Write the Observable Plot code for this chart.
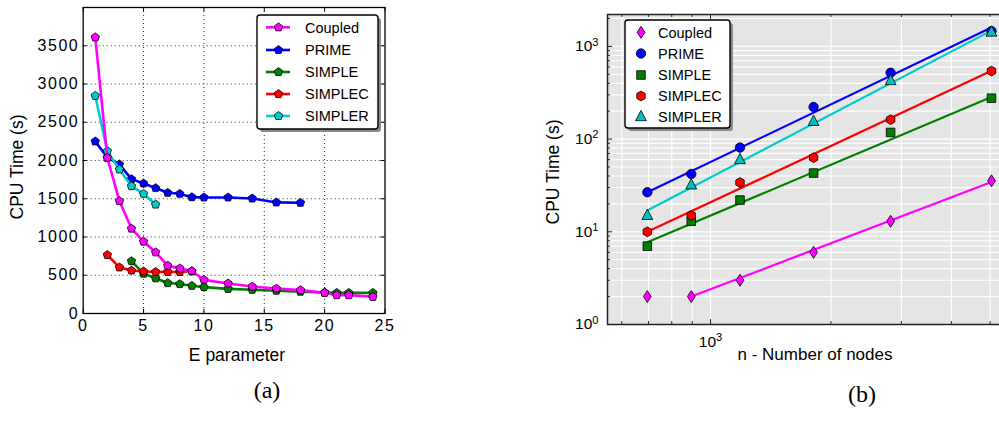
<!DOCTYPE html>
<html><head><meta charset="utf-8">
<script src="https://cdn.jsdelivr.net/npm/d3@7"></script>
<script src="https://cdn.jsdelivr.net/npm/@observablehq/plot@0.6"></script>
<style>
html,body{margin:0;padding:0;background:#fff;overflow:hidden;width:999px;height:421px;}
#wrap{position:relative;width:999px;height:421px;overflow:hidden;font-family:"Liberation Sans",Arial,sans-serif;color:#000;}
.abs{position:absolute;white-space:nowrap;line-height:1;}
</style></head><body><div id="wrap"></div>
<script>
// ---------- Panel (a) data: CPU time vs E parameter ----------
const eCoupled = [1,2,3,4,5,6,7,8,9,10,12,14,16,18,20,21,22,24];
const cpuCoupled = [3610,2036,1470,1110,940,800,625,590,555,440,393,352,326,305,270,240,240,218];
const ePrime = [1,2,3,4,5,6,7,8,9,10,12,14,16,18];
const cpuPrime = [2250,2038,1950,1757,1700,1640,1578,1565,1521,1517,1517,1504,1452,1447];
const eSimple = [4,5,6,7,8,9,10,12,14,16,18,20,21,22,24];
const cpuSimple = [685,521,460,398,385,362,345,322,310,298,285,275,270,270,270];
const eSimplec = [2,3,4,5,6,7,8,9];
const cpuSimplec = [765,603,562,550,543,543,543,552];
const eSimpler = [1,2,3,4,5,6];
const cpuSimpler = [2846,2123,1883,1665,1565,1425];
const xTicksA = [0,5,10,15,20,25];
const yTicksA = [0,500,1000,1500,2000,2500,3000,3500];

// ---------- Panel (b) data: CPU time vs number of nodes ----------
const nodes = [695, 895, 1185, 1810, 2820, 5040];
const tCoupled = [2, 2, 3, 6, 13, 35.5];
const tPrime = [26.7, 42, 81, 222, 520, 1460];
const tSimple = [7, 13, 22, 43, 118, 276];
const tSimplec = [10, 15, 34, 63, 162, 542];
const tSimpler = [15, 32, 60, 155, 427, 1425];
// fitted power-law lines, end points
const fitCoupledN = [895, 5040], fitCoupledT = [2, 34.5];
const fitPrimeN = [695, 5040], fitPrimeT = [26.7, 1600];
const fitSimpleN = [695, 5040], fitSimpleT = [7.7, 285];
const fitSimplecN = [695, 5040], fitSimplecT = [10, 545];
const fitSimplerN = [695, 5040], fitSimplerT = [17, 1480];
const xGridB = [600,700,800,900,1000,2000,3000,4000,5000];
const yGridB = [1,2,3,4,5,6,7,8,9,10,20,30,40,50,60,70,80,90,100,200,300,400,500,600,700,800,900,1000,2000];
const yTicksB = [1,10,100,1000];
const xTicksB = [1000];

const names = ["Coupled","PRIME","SIMPLE","SIMPLEC","SIMPLER"];

// ---------- styles ----------
const colors = {Coupled:"#ff00ff", PRIME:"#0000ff", SIMPLE:"#008000", SIMPLEC:"#ff0000", SIMPLER:"#00cccc"};
const fillsB = {Coupled:"#ff00ff", PRIME:"#0000ff", SIMPLE:"#007f00", SIMPLEC:"#ff0000", SIMPLER:"#00c0c0"};
const shapeB = {Coupled:"diamond", PRIME:"circle", SIMPLE:"square", SIMPLEC:"hexagon", SIMPLER:"triangle"};

function polygon(n, r, start){
  const v=[]; for(let i=0;i<n;i++){const a=(start+i*360/n)*Math.PI/180; v.push([r*Math.cos(a), r*Math.sin(a)]);} return v;
}
const shapes = {
  pentagon: polygon(5, 4.4, -90),
  diamond: [[0,-6],[3.9,0],[0,6],[-3.9,0]],
  square: [[-4.3,-4.3],[4.3,-4.3],[4.3,4.3],[-4.3,4.3]],
  hexagon: polygon(6, 4.9, -90),
  triangle: [[0,-6.3],[5.4,4],[-5.4,4]],
  circle: null
};
const circleR = 4.7;
function sym(name){
  return {draw(ctx){
    const v = shapes[name];
    if(!v){ ctx.moveTo(circleR,0); ctx.arc(0,0,circleR,0,2*Math.PI); return; }
    v.forEach(([x,y],i)=> i?ctx.lineTo(x,y):ctx.moveTo(x,y)); ctx.closePath();
  }};
}
function pathStr(name, cx, cy){
  const v = shapes[name];
  if(!v) return `M${cx+circleR},${cy}A${circleR},${circleR},0,1,1,${cx-circleR},${cy}A${circleR},${circleR},0,1,1,${cx+circleR},${cy}Z`;
  return v.map(([x,y],i)=>(i?"L":"M")+(cx+x)+","+(cy+y)).join("")+"Z";
}

const wrap = document.getElementById("wrap");
function addText(txt, css){ const d=document.createElement("div"); d.className="abs"; d.textContent=txt; Object.assign(d.style, css); wrap.appendChild(d); return d; }
function supify(svg){
  svg.querySelectorAll("text").forEach(t=>{
    const m=/^10\^(\d)$/.exec(t.textContent);
    if(m){ t.textContent="10"; const ts=document.createElementNS("http://www.w3.org/2000/svg","tspan");
      ts.setAttribute("dy","-0.5em"); ts.setAttribute("font-size","0.72em"); ts.textContent=m[1]; t.appendChild(ts); }
  });
}

// ---------- Panel (a) ----------
const seriesA = {
  Coupled:[eCoupled,cpuCoupled], PRIME:[ePrime,cpuPrime], SIMPLE:[eSimple,cpuSimple],
  SIMPLEC:[eSimplec,cpuSimplec], SIMPLER:[eSimpler,cpuSimpler]
};
const orderA = ["PRIME","SIMPLE","SIMPLEC","SIMPLER","Coupled"];
const marksA = [
  Plot.ruleX(xTicksA.slice(1,-1), {stroke:"#333", strokeDasharray:"1,3", strokeWidth:1}),
  Plot.ruleY(yTicksA.slice(1), {stroke:"#333", strokeDasharray:"1,3", strokeWidth:1}),
];
for(const n of orderA){
  const [xs, ys] = seriesA[n];
  const rows = xs.map((x,i)=>({x, y:ys[i]}));
  marksA.push(Plot.line(rows, {x:"x", y:"y", stroke:colors[n], strokeWidth:2.6}));
  marksA.push(Plot.dot(rows, {x:"x", y:"y", fill:colors[n], stroke:"#000", strokeWidth:0.8, symbol:sym("pentagon"), r:4}));
}
marksA.push(
  Plot.frame({stroke:"#000", strokeWidth:1.3}),
  Plot.ruleX(xTicksA, {y1:0, y2:55, stroke:"#000"}),
  Plot.ruleX(xTicksA, {y1:4000, y2:3945, stroke:"#000"}),
  Plot.ruleY(yTicksA, {x1:0, x2:0.33, stroke:"#000"}),
  Plot.ruleY(yTicksA, {x1:25, x2:24.67, stroke:"#000"}),
  Plot.axisX({ticks:xTicksA, tickFormat:d=>String(d), tickSize:0, tickPadding:6, label:null}),
  Plot.axisY({ticks:yTicksA, tickFormat:d=>String(d), tickSize:0, tickPadding:4, label:null})
);
const svgA = Plot.plot({
  width:400, height:340, marginLeft:82.7, marginRight:15.5, marginTop:7, marginBottom:27,
  x:{domain:[0,25]}, y:{domain:[0,4000]},
  style:{fontFamily:"Liberation Sans, Arial, sans-serif", fontSize:"16px", letterSpacing:"1.5px", color:"#000", background:"transparent", overflow:"visible"},
  marks:marksA
});
Object.assign(svgA.style, {position:"absolute", left:"0px", top:"0px"});
wrap.appendChild(svgA);

// ---------- Panel (b) ----------
const seriesB = {Coupled:tCoupled, PRIME:tPrime, SIMPLE:tSimple, SIMPLEC:tSimplec, SIMPLER:tSimpler};
const fitsB = {
  Coupled:[fitCoupledN,fitCoupledT], PRIME:[fitPrimeN,fitPrimeT], SIMPLE:[fitSimpleN,fitSimpleT],
  SIMPLEC:[fitSimplecN,fitSimplecT], SIMPLER:[fitSimplerN,fitSimplerT]
};
const xMinB = 552.6, xMaxB = 5401, yMaxB = 2208;
const marksB = [
  Plot.frame({fill:"#e5e5e5"}),
  Plot.ruleX(xGridB, {stroke:"#fff", strokeWidth:1.2}),
  Plot.ruleY(yGridB, {stroke:"#fff", strokeWidth:1.2}),
];
for(const n of names){
  const [fn, ft] = fitsB[n];
  marksB.push(Plot.line(fn.map((x,i)=>({x, y:ft[i]})), {x:"x", y:"y", stroke:colors[n], strokeWidth:2.2}));
}
for(const n of names){
  const rows = nodes.map((x,i)=>({x, y:seriesB[n][i]}));
  marksB.push(Plot.dot(rows, {x:"x", y:"y", fill:fillsB[n], stroke:"#000", strokeWidth:0.8, symbol:sym(shapeB[n]), r:4}));
}
const minorX = xGridB.filter(d=>d!==1000), minorY = yGridB.filter(d=>!yTicksB.includes(d));
marksB.push(
  Plot.frame({stroke:"#222", strokeWidth:1.5}),
  Plot.ruleX(minorX, {y1:1, y2:1.077, stroke:"#222"}),
  Plot.ruleX(xTicksB, {y1:1, y2:1.13, stroke:"#222"}),
  Plot.ruleX(minorX, {y1:yMaxB, y2:yMaxB/1.077, stroke:"#222"}),
  Plot.ruleX(xTicksB, {y1:yMaxB, y2:yMaxB/1.13, stroke:"#222"}),
  Plot.ruleY(minorY, {x1:xMinB, x2:xMinB*1.018, stroke:"#222"}),
  Plot.ruleY(yTicksB, {x1:xMinB, x2:xMinB*1.03, stroke:"#222"}),
  Plot.axisX({ticks:xTicksB, tickFormat:d=>"10^"+Math.round(Math.log10(d)), tickSize:0, tickPadding:11, label:null}),
  Plot.axisY({ticks:yTicksB, tickFormat:d=>"10^"+Math.round(Math.log10(d)), tickSize:0, tickPadding:9, label:null})
);
const svgB = Plot.plot({
  width:483, height:380, marginLeft:87, marginRight:0, marginTop:14, marginBottom:56,
  x:{type:"log", domain:[xMinB, xMaxB]}, y:{type:"log", domain:[1, yMaxB]},
  style:{fontFamily:"Liberation Sans, Arial, sans-serif", fontSize:"15.5px", color:"#000", background:"transparent", overflow:"visible"},
  marks:marksB
});
supify(svgB);
Object.assign(svgB.style, {position:"absolute", left:"520px", top:"0px"});
wrap.appendChild(svgB);

// ---------- Legends ----------
function legend(box, rowsY, lineX, markX, textX, shapeOf, fillOf, withLine){
  const [x0,y0,x1,y1] = box;
  let s = `<svg width="999" height="421" style="position:absolute;left:0;top:0;overflow:visible" xmlns="http://www.w3.org/2000/svg">`;
  s += `<rect x="${x0+3}" y="${y0+3}" width="${x1-x0}" height="${y1-y0}" rx="3" fill="#8a8a8a"/>`;
  s += `<rect x="${x0}" y="${y0}" width="${x1-x0}" height="${y1-y0}" rx="3" fill="#fff" stroke="#000" stroke-width="1.4"/>`;
  names.forEach((n,i)=>{
    const cy = rowsY[i];
    if(withLine) s += `<line x1="${lineX[0]}" x2="${lineX[1]}" y1="${cy}" y2="${cy}" stroke="${colors[n]}" stroke-width="2.6"/>`;
    s += `<path d="${pathStr(shapeOf(n), markX, cy)}" fill="${fillOf(n)}" stroke="#000" stroke-width="0.8"/>`;
    s += `<text x="${textX}" y="${cy}" dy="0.36em" font-family="Liberation Sans, Arial, sans-serif" font-size="14.5">${n}</text>`;
  });
  s += `</svg>`;
  const d = document.createElement("div"); d.innerHTML = s; wrap.appendChild(d.firstChild);
}
legend([257,15,378,129], [27.3,50,72,94,116], [266,290], 278.5, 305, ()=>"pentagon", n=>colors[n], true);
legend([625,20,730,128], [32.3,53.5,75,96,116.7], null, 641, 658, n=>shapeB[n], n=>fillsB[n], false);

// ---------- Titles & captions ----------
addText("CPU Time (s)", {left:"18px", top:"167px", fontSize:"17.5px", transform:"translate(-50%,-50%) rotate(-90deg)"});
addText("E parameter", {left:"237px", top:"346.6px", fontSize:"17.5px", transform:"translateX(-50%)"});
addText("(a)", {left:"267px", top:"378px", fontSize:"24px", fontFamily:"Liberation Serif, Times New Roman, serif", transform:"translateX(-50%)"});
addText("CPU Time (s)", {left:"554px", top:"172px", fontSize:"17.5px", transform:"translate(-50%,-50%) rotate(-90deg)"});
addText("n - Number of nodes", {left:"815px", top:"345.6px", fontSize:"17px", transform:"translateX(-50%)"});
addText("(b)", {left:"862px", top:"382px", fontSize:"24px", fontFamily:"Liberation Serif, Times New Roman, serif", transform:"translateX(-50%)"});
</script>
</body></html>
